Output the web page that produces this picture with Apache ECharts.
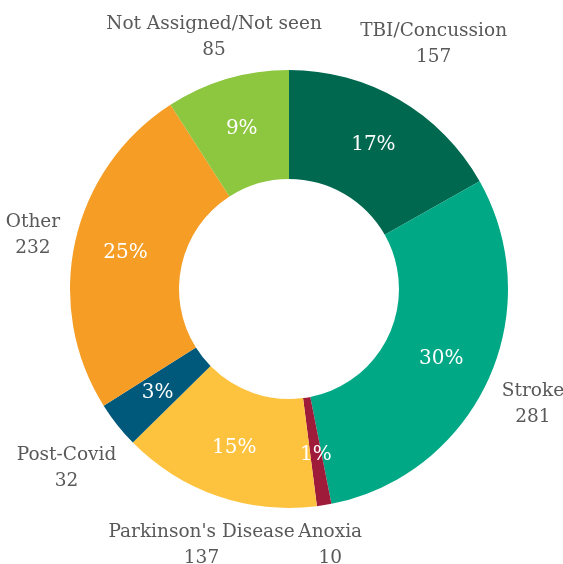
<!DOCTYPE html>
<html>
<head>
<meta charset="utf-8">
<script src="https://cdn.jsdelivr.net/npm/echarts@6/dist/echarts.min.js"></script>
<style>
  html, body { margin: 0; padding: 0; background: #fff; }
  #donutChart { width: 563px; height: 564px; }
</style>
</head>
<body>
<div id="donutChart"></div>
<script>
const categories = ["TBI/Concussion", "Stroke", "Anoxia", "Parkinson's Disease", "Post-Covid", "Other", "Not Assigned/Not seen"];
const counts = [157, 281, 10, 137, 32, 232, 85];
const colors = ["#00684f", "#00a886", "#9e1b3a", "#fdc33f", "#00587b", "#f59d25", "#8dc63f"];

const center = [289, 289];
const outerR = 219;
const innerR = 110;
const labelGap = 12;
const labelHalfH = 22; // visual half height of a two line label
const labelTop = 34, labelBottom = 542; // keep label centres inside the plot
const labelNudgeY = 3;
const serifFont = "DejaVu Serif";

const total = counts.reduce((a, b) => a + b, 0);
// mid angle of every slice, clockwise from 12 o'clock
const midAngles = [];
let acc = 0;
counts.forEach((c) => {
  midAngles.push(((acc + c / 2) / total) * Math.PI * 2);
  acc += c;
});

const chart = echarts.init(document.getElementById("donutChart"), null, { renderer: "canvas" });
const seriesData = categories.map((name, i) => ({ name, value: counts[i], itemStyle: { color: colors[i] } }));

const option = {
  animation: false,
  textStyle: { fontFamily: serifFont },
  series: [
    {
      type: "pie",
      center: center,
      radius: [innerR, outerR],
      startAngle: 90,
      clockwise: true,
      data: seriesData,
      itemStyle: { borderWidth: 0 },
      label: {
        position: "inside",
        color: "#ffffff",
        fontSize: 20,
        fontFamily: serifFont,
        formatter: (p) => Math.round(p.percent) + "%",
      },
      labelLine: { show: false },
    },
    {
      type: "pie",
      center: center,
      radius: [innerR, outerR],
      startAngle: 90,
      clockwise: true,
      silent: true,
      data: seriesData.map((d) => ({ name: d.name, value: d.value })),
      itemStyle: { color: "transparent" },
      label: {
        position: "inside",
        color: "#595959",
        fontSize: 18.5,
        lineHeight: 26,
        fontFamily: serifFont,
        overflow: "none",
        formatter: "{b}\n{c}",
      },
      labelLine: { show: false },
      labelLayout: function (params) {
        const a = midAngles[params.dataIndex];
        const sx = Math.sin(a), cy = -Math.cos(a);
        const w = params.labelRect.width;
        let d = outerR + labelGap + (w / 2) * Math.abs(sx) + labelHalfH * Math.abs(cy);
        // pull labels back towards the centre if they would leave the page
        if (cy < 0) d = Math.min(d, (center[1] - labelTop) / -cy);
        if (cy > 0) d = Math.min(d, (labelBottom - center[1]) / cy);
        return {
          x: center[0] + d * sx,
          y: center[1] + d * cy + labelNudgeY,
          align: "center",
          verticalAlign: "middle",
        };
      },
    },
  ],
};
chart.setOption(option);
</script>
</body>
</html>
